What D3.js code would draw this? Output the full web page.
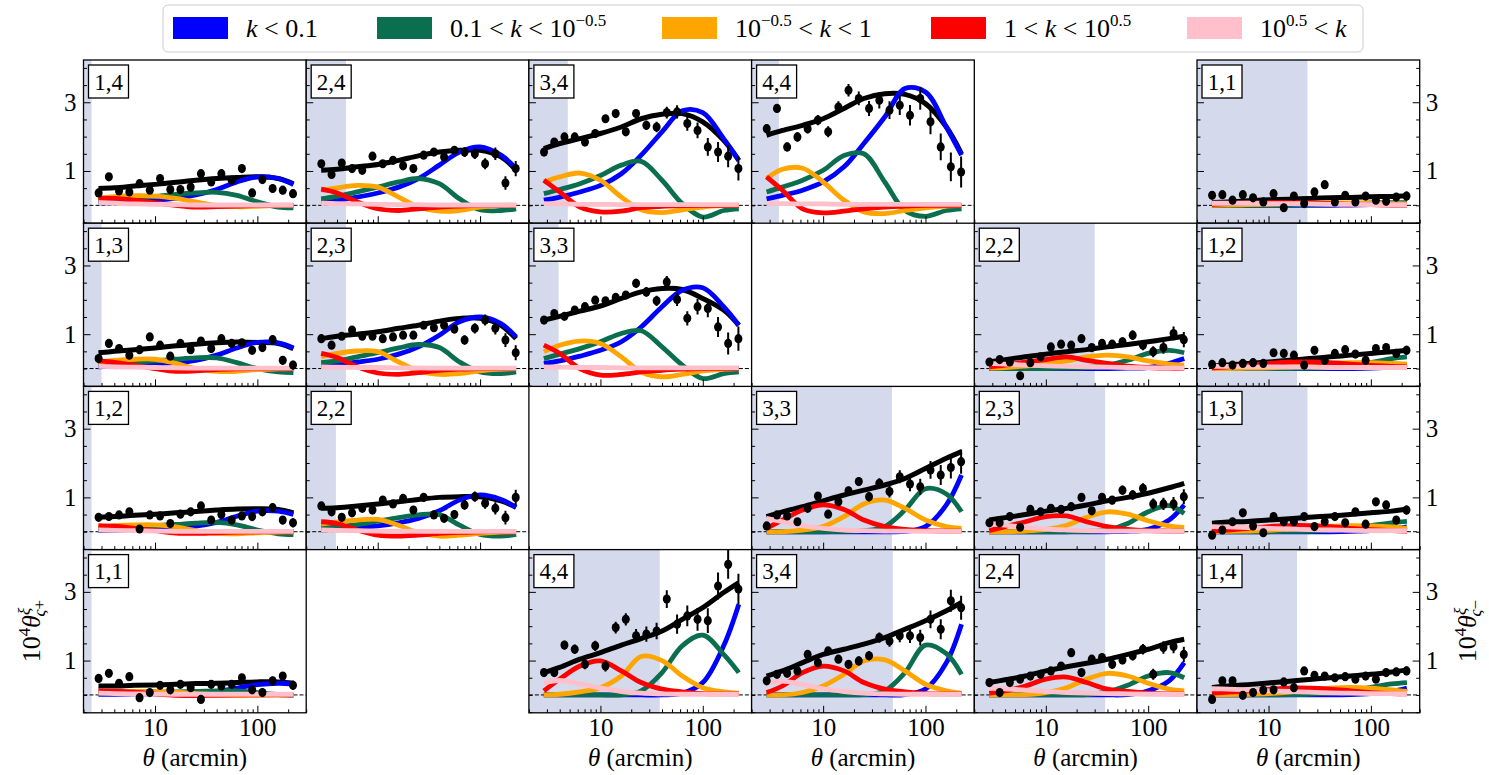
<!DOCTYPE html>
<html>
<head>
<meta charset="utf-8">
<script src="https://cdn.jsdelivr.net/npm/d3@7"></script>
<style>
  body { margin: 0; background: #fff; }
  svg { display: block; font-family: "Liberation Serif", "DejaVu Serif", serif; }
  text { font-family: "Liberation Serif", "DejaVu Serif", serif; }
</style>
</head>
<body>
<svg id="chart"></svg>
<script>
// angular bins of the measurements (arcmin)
let thetaBins = [2.81, 3.54, 4.45, 5.61, 7.06, 8.89, 11.2, 14.1, 17.7, 22.3, 28.1, 35.4, 44.5, 56.1, 70.6, 88.9, 112, 141, 177, 223]
let thetaModel = [2.8, 4, 6.3, 10, 16, 25, 40, 63, 100, 160, 225]

let legendLabels = [
    [{t: "k", i: true}, {t: " < 0.1"}],
    [{t: "0.1 < "}, {t: "k", i: true}, {t: " < 10"}, {t: "\u22120.5", sup: true}],
    [{t: "10"}, {t: "\u22120.5", sup: true}, {t: " < "}, {t: "k", i: true}, {t: " < 1"}],
    [{t: "1 < "}, {t: "k", i: true}, {t: " < 10"}, {t: "0.5", sup: true}],
    [{t: "10"}, {t: "0.5", sup: true}, {t: " < "}, {t: "k", i: true}]
]
let kColors = ["#0000ff", "#0b6e4f", "#ffa500", "#ff0000", "#ffc0cb"]

let panelLabels = ["1,4", "2,4", "3,4", "4,4", "1,1",
                   "1,3", "2,3", "3,3", "2,2", "1,2",
                   "1,2", "2,2", "3,3", "2,3", "1,3",
                   "1,1", "4,4", "3,4", "2,4", "1,4"]
let panelRow = [0, 0, 0, 0, 0, 1, 1, 1, 1, 1, 2, 2, 2, 2, 2, 3, 3, 3, 3, 3]
let panelCol = [0, 1, 2, 3, 5, 0, 1, 2, 4, 5, 0, 1, 3, 4, 5, 0, 2, 3, 4, 5]
// angular scale cut (shaded below it)
let scaleCut = [2.4, 4.9, 4.8, 3.7, 24, 3.0, 4.9, 3.9, 30, 19, 2.4, 3.9, 47, 38, 24, 2.4, 38, 48, 38, 19]

let errA = [0.07, 0.07, 0.07, 0.07, 0.07, 0.07, 0.07, 0.08, 0.08, 0.08, 0.08, 0.09, 0.09, 0.1, 0.1, 0.1, 0.11, 0.12, 0.12, 0.13]
let errB = [0.08, 0.08, 0.08, 0.08, 0.08, 0.08, 0.09, 0.09, 0.09, 0.1, 0.1, 0.11, 0.12, 0.13, 0.14, 0.15, 0.16, 0.18, 0.2, 0.22]
let errC = [0.1, 0.1, 0.1, 0.1, 0.1, 0.11, 0.11, 0.12, 0.12, 0.13, 0.14, 0.15, 0.17, 0.19, 0.21, 0.23, 0.26, 0.29, 0.32, 0.35]
let errD = [0.13, 0.13, 0.13, 0.14, 0.14, 0.15, 0.16, 0.17, 0.18, 0.2, 0.22, 0.24, 0.26, 0.28, 0.3, 0.33, 0.36, 0.39, 0.42, 0.45]
let panelErr = [errA, errB, errC, errD, errA, errA, errB, errC, errB, errA,
                errA, errB, errC, errB, errA, errA, errD, errC, errB, errA]

let dataPoints = [
    [0.36, 0.83, 0.42, 0.39, 0.63, 0.44, 0.78, 0.46, 0.46, 0.53, 0.92, 0.68, 0.92, 0.73, 1.07, 0.36, 0.75, 0.49, 0.44, 0.34],
    [1.21, 0.9, 1.23, 1.07, 1.02, 1.43, 1.21, 1.31, 1.15, 1.07, 1.46, 1.55, 1.41, 1.6, 1.55, 1.5, 1.21, 1.5, 0.65, 1.07],
    [1.55, 1.84, 1.99, 1.99, 1.84, 2.09, 2.52, 2.67, 2.14, 2.67, 2.33, 2.28, 2.7, 2.72, 2.38, 2.18, 1.7, 1.55, 1.43, 1.07],
    [2.23, 2.82, 1.7, 1.99, 2.23, 2.48, 2.14, 2.86, 3.35, 3.11, 2.82, 3.06, 2.77, 2.91, 2.62, 3.11, 2.43, 1.7, 1.12, 0.97],
    [0.29, 0.31, 0.15, 0.31, 0.22, 0.1, 0.34, -0.07, 0.27, 0.05, 0.39, 0.6, 0.1, 0.29, 0.1, 0.27, 0.15, 0.12, 0.24, 0.27],
    [0.29, 0.73, 0.58, 0.39, 0.55, 0.92, 0.68, 0.36, 0.73, 0.55, 0.8, 0.58, 0.87, 0.73, 0.75, 0.53, 0.61, 0.84, 0.24, 0.1],
    [0.87, 0.68, 0.94, 1.12, 0.94, 0.94, 0.87, 0.92, 0.97, 0.97, 1.26, 1.19, 1.26, 1.15, 0.83, 1.17, 1.41, 1.17, 0.83, 0.46],
    [1.41, 1.6, 1.52, 1.7, 1.8, 1.99, 1.97, 2.07, 2.14, 2.48, 2.23, 1.97, 2.52, 2.01, 1.46, 1.8, 1.75, 1.21, 0.73, 0.87],
    [0.19, 0.26, 0.19, -0.21, 0.17, 0.34, 0.63, 0.71, 0.68, 0.87, 0.61, 0.73, 0.71, 0.78, 0.97, 0.68, 0.49, 0.61, 1.02, 0.84],
    [0.12, 0.17, 0.1, 0.15, 0.17, 0.15, 0.46, 0.44, 0.39, 0.1, 0.53, 0.24, 0.44, 0.55, 0.42, 0.24, 0.58, 0.61, 0.44, 0.53],
    [0.42, 0.44, 0.49, 0.58, 0.08, 0.49, 0.46, 0.24, 0.51, 0.58, 0.75, 0.34, 0.5, 0.34, 0.46, 0.44, 0.58, 0.7, 0.34, 0.26],
    [0.75, 0.58, 0.42, 0.55, 0.68, 0.63, 0.92, 0.81, 0.97, 0.63, 1.0, 0.49, 0.39, 0.5, 0.78, 1.02, 0.83, 0.68, 0.41, 1.0],
    [0.17, 0.49, 0.46, 0.29, 0.68, 1.04, 0.51, 0.87, 1.19, 1.46, 1.02, 1.41, 1.17, 1.6, 1.39, 1.31, 1.8, 1.65, 1.87, 2.04],
    [0.26, 0.26, 0.44, 0.13, 0.65, 0.58, 0.68, 0.65, 0.73, 1.0, 0.61, 1.0, 0.92, 1.21, 1.07, 1.26, 0.81, 0.81, 0.81, 1.02],
    [-0.1, 0.05, 0.29, 0.55, 0.17, -0.03, 0.44, 0.29, 0.29, 0.44, 0.15, 0.29, 0.44, 0.26, 0.58, 0.22, 0.87, 0.78, 0.34, 0.63],
    [0.48, 0.63, 0.34, 0.53, -0.08, 0.07, 0.28, 0.15, 0.31, 0.21, -0.13, 0.31, 0.26, 0.31, 0.5, 0.15, 0.07, 0.41, 0.55, 0.28],
    [0.65, 0.65, 1.45, 1.33, 0.89, 1.43, 0.84, 1.96, 2.2, 1.72, 1.77, 1.86, 2.79, 2.06, 2.3, 2.2, 2.16, 3.17, 3.8, 3.08],
    [0.41, 0.6, 0.63, 0.7, 1.18, 0.94, 1.28, 1.04, 0.89, 0.99, 1.14, 1.67, 1.57, 1.72, 1.72, 1.67, 2.2, 1.91, 2.74, 2.54],
    [0.36, 0.07, 0.36, 0.46, 0.55, 0.6, 0.7, 0.84, 1.23, 0.65, 1.04, 1.09, 0.89, 1.02, 1.14, 1.33, 0.6, 1.38, 1.41, 1.18],
    [-0.13, 0.41, 0.41, -0.01, 0.07, 0.14, 0.15, 0.38, 0.21, 0.7, 0.57, 0.55, 0.5, 0.53, 0.46, 0.55, 0.46, 0.65, 0.67, 0.7]
]

let modelTotal = [
    [0.49, 0.51, 0.56, 0.61, 0.67, 0.73, 0.78, 0.81, 0.83, 0.78, 0.63],
    [1.02, 1.05, 1.12, 1.19, 1.31, 1.44, 1.55, 1.6, 1.6, 1.41, 1.02],
    [1.65, 1.8, 1.94, 2.09, 2.28, 2.52, 2.65, 2.67, 2.43, 1.89, 1.31],
    [2.04, 2.18, 2.33, 2.52, 2.82, 3.11, 3.25, 3.23, 2.96, 2.28, 1.5],
    [0.08, 0.1, 0.13, 0.16, 0.18, 0.2, 0.22, 0.23, 0.25, 0.26, 0.28],
    [0.46, 0.5, 0.55, 0.6, 0.66, 0.71, 0.75, 0.77, 0.76, 0.73, 0.58],
    [0.87, 0.94, 1.0, 1.07, 1.17, 1.26, 1.38, 1.46, 1.46, 1.26, 0.87],
    [1.41, 1.52, 1.67, 1.82, 2.04, 2.23, 2.33, 2.3, 2.04, 1.7, 1.26],
    [0.19, 0.26, 0.34, 0.42, 0.49, 0.55, 0.63, 0.7, 0.78, 0.87, 0.94],
    [0.07, 0.1, 0.15, 0.19, 0.24, 0.29, 0.34, 0.39, 0.44, 0.49, 0.53],
    [0.42, 0.44, 0.48, 0.51, 0.55, 0.59, 0.63, 0.66, 0.67, 0.65, 0.55],
    [0.68, 0.7, 0.75, 0.81, 0.87, 0.94, 1.0, 1.02, 1.02, 0.9, 0.71],
    [0.44, 0.58, 0.73, 0.9, 1.07, 1.21, 1.36, 1.55, 1.84, 2.14, 2.33],
    [0.34, 0.41, 0.5, 0.6, 0.68, 0.78, 0.9, 1.0, 1.12, 1.28, 1.41],
    [0.25, 0.28, 0.3, 0.34, 0.38, 0.42, 0.46, 0.5, 0.55, 0.6, 0.66],
    [0.26, 0.26, 0.28, 0.29, 0.31, 0.33, 0.34, 0.36, 0.38, 0.38, 0.34],
    [0.65, 0.8, 1.04, 1.23, 1.45, 1.64, 1.86, 2.2, 2.54, 2.98, 3.27],
    [0.55, 0.7, 0.94, 1.18, 1.33, 1.48, 1.67, 1.91, 2.16, 2.45, 2.69],
    [0.36, 0.44, 0.55, 0.7, 0.82, 0.92, 1.04, 1.18, 1.33, 1.52, 1.62],
    [0.22, 0.26, 0.3, 0.35, 0.4, 0.45, 0.5, 0.55, 0.6, 0.67, 0.73]
]

// k < 0.1
let modelBlue = [
    [0.07, 0.08, 0.1, 0.15, 0.2, 0.3, 0.46, 0.68, 0.83, 0.78, 0.6],
    [0.1, 0.15, 0.24, 0.36, 0.53, 0.78, 1.17, 1.55, 1.7, 1.46, 1.07],
    [0.15, 0.24, 0.39, 0.58, 0.92, 1.46, 2.14, 2.75, 2.7, 1.94, 1.31],
    [0.19, 0.29, 0.44, 0.68, 1.12, 1.8, 2.57, 3.4, 3.3, 2.28, 1.46],
    [0, 0, 0, 0, 0, 0, 0, 0.01, 0.02, 0.04, 0.06],
    [0.05, 0.07, 0.1, 0.13, 0.17, 0.24, 0.39, 0.6, 0.76, 0.75, 0.6],
    [0.07, 0.12, 0.19, 0.27, 0.42, 0.63, 0.97, 1.36, 1.5, 1.31, 0.92],
    [0.15, 0.22, 0.36, 0.53, 0.78, 1.21, 1.8, 2.28, 2.35, 1.8, 1.26],
    [0, 0, 0, 0, 0, 0, 0, 0.01, 0.03, 0.15, 0.29],
    [0, 0, 0, 0, 0, 0, 0, 0, 0.01, 0.05, 0.13],
    [0.03, 0.04, 0.06, 0.08, 0.11, 0.16, 0.27, 0.45, 0.6, 0.6, 0.5],
    [0.05, 0.08, 0.13, 0.17, 0.26, 0.39, 0.61, 0.92, 1.07, 0.94, 0.71],
    [0, 0, 0, 0, 0, 0, 0, 0.01, 0.15, 0.78, 1.65],
    [0, 0, 0, 0, 0, 0, 0, 0.01, 0.07, 0.34, 0.78],
    [0, 0, 0, 0, 0, 0, 0, 0.01, 0.03, 0.07, 0.14],
    [0.02, 0.02, 0.03, 0.03, 0.04, 0.06, 0.1, 0.2, 0.3, 0.34, 0.32],
    [0, 0, 0, 0, 0, 0, 0, 0.05, 0.36, 1.43, 2.64],
    [0, 0, 0, 0, 0, 0, 0, 0.01, 0.17, 0.94, 2.06],
    [0, 0, 0, 0, 0, 0, 0, 0.01, 0.12, 0.41, 0.94],
    [0, 0, 0, 0, 0, 0, 0, 0.01, 0.04, 0.1, 0.2]
]

// 0.1 < k < 10^-0.5
let modelGreen = [
    [0.15, 0.17, 0.22, 0.26, 0.32, 0.36, 0.38, 0.29, 0.1, -0.05, -0.07],
    [0.19, 0.26, 0.39, 0.53, 0.68, 0.78, 0.63, 0.19, -0.13, -0.15, -0.1],
    [0.34, 0.46, 0.63, 0.87, 1.17, 1.28, 0.73, 0.05, -0.34, -0.15, -0.1],
    [0.39, 0.53, 0.73, 1.02, 1.45, 1.5, 0.68, -0.15, -0.32, -0.15, -0.1],
    [0, 0, 0, 0.01, 0.01, 0.02, 0.03, 0.05, 0.07, 0.08, 0.08],
    [0.13, 0.17, 0.19, 0.22, 0.27, 0.31, 0.31, 0.17, 0, -0.1, -0.12],
    [0.17, 0.22, 0.34, 0.46, 0.6, 0.7, 0.61, 0.19, -0.1, -0.15, -0.1],
    [0.29, 0.42, 0.58, 0.78, 1.02, 1.1, 0.63, 0.1, -0.29, -0.15, -0.1],
    [0, 0, 0, 0, 0.01, 0.03, 0.1, 0.24, 0.44, 0.53, 0.46],
    [0, 0, 0, 0, 0, 0.01, 0.03, 0.07, 0.17, 0.29, 0.34],
    [0.1, 0.12, 0.15, 0.18, 0.21, 0.25, 0.27, 0.2, 0.05, -0.06, -0.08],
    [0.12, 0.15, 0.21, 0.31, 0.41, 0.49, 0.5, 0.19, -0.08, -0.13, -0.08],
    [0, 0, 0, 0, 0.01, 0.03, 0.15, 0.63, 1.25, 1.1, 0.58],
    [0, 0, 0, 0, 0, 0.01, 0.05, 0.24, 0.58, 0.76, 0.53],
    [0, 0, 0, 0, 0.01, 0.02, 0.05, 0.1, 0.18, 0.26, 0.3],
    [0.05, 0.06, 0.07, 0.08, 0.09, 0.1, 0.12, 0.12, 0.07, 0.01, -0.01],
    [0, 0, 0, 0, 0, 0.12, 0.65, 1.43, 1.74, 1.18, 0.65],
    [0, 0, 0, 0, 0, 0.01, 0.12, 0.65, 1.45, 1.2, 0.6],
    [0, 0, 0, 0, 0, 0.01, 0.09, 0.28, 0.55, 0.65, 0.5],
    [0, 0, 0, 0, 0.01, 0.02, 0.05, 0.12, 0.22, 0.32, 0.36]
]

// 10^-0.5 < k < 1
let modelOrange = [
    [0.2, 0.25, 0.28, 0.27, 0.2, 0.1, 0.0, -0.04, -0.03, 0, 0],
    [0.44, 0.51, 0.58, 0.53, 0.24, -0.05, -0.17, -0.15, -0.05, 0, 0],
    [0.68, 0.83, 0.94, 0.73, 0.24, -0.13, -0.21, -0.13, -0.05, -0.01, 0],
    [0.78, 1.05, 1.08, 0.68, 0.15, -0.19, -0.24, -0.15, -0.07, -0.02, 0],
    [0, 0.01, 0.02, 0.03, 0.05, 0.06, 0.07, 0.07, 0.06, 0.05, 0.04],
    [0.19, 0.24, 0.27, 0.27, 0.15, 0, -0.08, -0.08, -0.03, -0.01, 0],
    [0.34, 0.44, 0.51, 0.49, 0.19, -0.07, -0.17, -0.15, -0.07, -0.02, 0],
    [0.49, 0.68, 0.8, 0.73, 0.34, -0.1, -0.24, -0.17, -0.07, -0.02, 0],
    [0.01, 0.03, 0.07, 0.13, 0.22, 0.34, 0.39, 0.34, 0.22, 0.13, 0.1],
    [0, 0, 0.01, 0.02, 0.05, 0.1, 0.15, 0.17, 0.17, 0.15, 0.13],
    [0.15, 0.18, 0.2, 0.2, 0.14, 0.03, -0.05, -0.06, -0.03, -0.01, 0],
    [0.22, 0.29, 0.34, 0.36, 0.19, -0.03, -0.13, -0.1, -0.05, -0.01, 0],
    [0, 0, 0.05, 0.15, 0.44, 0.81, 0.92, 0.68, 0.34, 0.15, 0.1],
    [0, 0, 0.02, 0.07, 0.19, 0.42, 0.58, 0.51, 0.32, 0.17, 0.12],
    [0, 0.01, 0.02, 0.04, 0.08, 0.12, 0.16, 0.18, 0.17, 0.14, 0.1],
    [0.08, 0.09, 0.1, 0.1, 0.08, 0.04, 0.0, -0.02, -0.01, 0, 0],
    [0, 0.02, 0.09, 0.21, 0.55, 1.12, 1.0, 0.55, 0.21, 0.09, 0.05],
    [0, 0, 0.07, 0.26, 0.6, 0.99, 1.02, 0.7, 0.31, 0.12, 0.05],
    [0, 0, 0.01, 0.07, 0.21, 0.46, 0.63, 0.55, 0.34, 0.17, 0.12],
    [0, 0.01, 0.02, 0.04, 0.08, 0.14, 0.2, 0.22, 0.2, 0.15, 0.1]
]

// 1 < k < 10^0.5
let modelRed = [
    [0.22, 0.2, 0.15, 0.07, 0.0, -0.05, -0.04, -0.02, 0, 0, 0],
    [0.47, 0.36, 0.1, -0.1, -0.15, -0.1, -0.05, -0.02, 0, 0, 0],
    [0.73, 0.39, -0.05, -0.19, -0.17, -0.07, -0.03, -0.01, 0, 0, 0],
    [0.83, 0.44, -0.1, -0.22, -0.17, -0.1, -0.05, -0.02, 0, 0, 0],
    [0.03, 0.05, 0.07, 0.08, 0.08, 0.07, 0.05, 0.03, 0.02, 0.01, 0.01],
    [0.22, 0.18, 0.1, 0, -0.08, -0.07, -0.03, -0.01, 0, 0, 0],
    [0.44, 0.32, 0.05, -0.13, -0.17, -0.12, -0.05, -0.02, 0, 0, 0],
    [0.68, 0.44, 0, -0.19, -0.17, -0.1, -0.05, -0.02, 0, 0, 0],
    [0.05, 0.1, 0.19, 0.26, 0.34, 0.24, 0.15, 0.07, 0.03, 0.01, 0.01],
    [0.02, 0.05, 0.1, 0.15, 0.19, 0.19, 0.17, 0.13, 0.09, 0.06, 0.05],
    [0.18, 0.16, 0.1, 0.03, -0.04, -0.05, -0.03, -0.01, 0, 0, 0],
    [0.29, 0.24, 0.05, -0.1, -0.13, -0.1, -0.05, -0.02, 0, 0, 0],
    [0.1, 0.34, 0.63, 0.78, 0.65, 0.34, 0.15, 0.07, 0.03, 0.02, 0.02],
    [0.03, 0.15, 0.29, 0.44, 0.46, 0.29, 0.15, 0.07, 0.03, 0.02, 0.02],
    [0.02, 0.05, 0.1, 0.15, 0.18, 0.18, 0.15, 0.1, 0.06, 0.03, 0.02],
    [0.12, 0.11, 0.08, 0.03, -0.01, -0.02, -0.01, 0, 0, 0, 0],
    [0.12, 0.46, 0.84, 0.99, 0.7, 0.36, 0.17, 0.09, 0.04, 0.03, 0.03],
    [0.07, 0.26, 0.65, 0.84, 0.7, 0.36, 0.17, 0.09, 0.04, 0.03, 0.03],
    [0.05, 0.12, 0.26, 0.46, 0.52, 0.36, 0.17, 0.1, 0.05, 0.03, 0.03],
    [0.05, 0.08, 0.12, 0.16, 0.2, 0.2, 0.17, 0.12, 0.07, 0.04, 0.03]
]

// 10^0.5 < k
let modelPink = [
    [0.08, 0.06, 0.04, 0.03, 0.02, 0.01, 0.01, 0.01, 0.01, 0.01, 0.01],
    [0.06, 0.05, 0.04, 0.03, 0.02, 0.02, 0.01, 0.01, 0.01, 0.01, 0.01],
    [0.05, 0.04, 0.03, 0.03, 0.02, 0.02, 0.02, 0.02, 0.02, 0.02, 0.02],
    [0.05, 0.05, 0.04, 0.04, 0.03, 0.03, 0.03, 0.03, 0.03, 0.03, 0.03],
    [0.06, 0.06, 0.06, 0.05, 0.05, 0.04, 0.03, 0.03, 0.02, 0.02, 0.02],
    [0.06, 0.05, 0.04, 0.03, 0.02, 0.01, 0.01, 0.01, 0.01, 0.01, 0.01],
    [0.05, 0.04, 0.03, 0.03, 0.02, 0.02, 0.01, 0.01, 0.01, 0.01, 0.01],
    [0.05, 0.04, 0.03, 0.03, 0.02, 0.02, 0.02, 0.02, 0.02, 0.02, 0.02],
    [0.15, 0.13, 0.1, 0.08, 0.06, 0.05, 0.04, 0.03, 0.02, 0.02, 0.02],
    [0.06, 0.06, 0.05, 0.05, 0.04, 0.04, 0.03, 0.03, 0.03, 0.03, 0.03],
    [0.05, 0.04, 0.03, 0.02, 0.01, 0.01, 0.01, 0.01, 0.01, 0.01, 0.01],
    [0.05, 0.04, 0.03, 0.02, 0.02, 0.01, 0.01, 0.01, 0.01, 0.01, 0.01],
    [0.39, 0.29, 0.17, 0.1, 0.05, 0.03, 0.02, 0.02, 0.01, 0.01, 0.01],
    [0.24, 0.19, 0.13, 0.08, 0.05, 0.03, 0.02, 0.02, 0.02, 0.02, 0.02],
    [0.15, 0.14, 0.12, 0.1, 0.08, 0.06, 0.05, 0.04, 0.03, 0.03, 0.03],
    [0.05, 0.04, 0.03, 0.03, 0.02, 0.02, 0.02, 0.02, 0.02, 0.02, 0.02],
    [0.35, 0.42, 0.32, 0.2, 0.1, 0.05, 0.03, 0.02, 0.02, 0.02, 0.02],
    [0.35, 0.4, 0.3, 0.18, 0.1, 0.05, 0.03, 0.02, 0.02, 0.02, 0.02],
    [0.2, 0.18, 0.14, 0.1, 0.07, 0.05, 0.04, 0.03, 0.02, 0.02, 0.02],
    [0.18, 0.17, 0.15, 0.12, 0.1, 0.08, 0.06, 0.05, 0.04, 0.04, 0.04]
]

let yMajor = [1, 3]
let yMinor = [-0.5, 0, 0.5, 1.5, 2, 2.5, 3.5, 4]
let xMajor = [10, 100]
let xMinor = [2, 3, 4, 5, 6, 7, 8, 9, 20, 30, 40, 50, 60, 70, 80, 90, 200, 300]

let width = 1489
let height = 775
let left0 = 83.5   // left edge of first column
let top0 = 60      // top edge of first row
let colW = 222.7
let rowH = 163.2
let legendX = [173, 377, 662, 931, 1187]
let serif = '"Liberation Serif", "DejaVu Serif", serif'

let svg = d3.select('#chart').attr('width', width).attr('height', height)
    .attr('font-family', serif)

let xScale = d3.scaleLog().domain([2, 300]).range([0, colW])
let yScale = d3.scaleLinear().domain([-0.52, 4.23]).range([rowH, 0])

let line = d3.line()
    .x(d => xScale(d[0]))
    .y(d => yScale(d[1]))
    .curve(d3.curveCatmullRom.alpha(0.5))

let styleAxis = (g) => {
    g.select('.domain').remove()
    g.attr('font-family', serif)
     .attr('font-size', 25)
     .attr('color', '#000')
    g.selectAll('.tick line').attr('stroke-width', 1)
}

let drawPanel = (i) => {
    let px = left0 + panelCol[i] * colW
    let py = top0 + panelRow[i] * rowH
    let g = svg.append('g').attr('transform', 'translate(' + px + ',' + py + ')')

    g.append('clipPath').attr('id', 'clip' + i)
        .append('rect').attr('width', colW).attr('height', rowH)
    let inner = g.append('g').attr('clip-path', 'url(#clip' + i + ')')

    // scale cut shading
    inner.append('rect')
        .attr('x', 0).attr('y', 0)
        .attr('width', xScale(scaleCut[i]))
        .attr('height', rowH)
        .attr('fill', '#d4d9ec')

    inner.append('line')
        .attr('x1', 0).attr('x2', colW)
        .attr('y1', yScale(0)).attr('y2', yScale(0))
        .attr('stroke', '#000').attr('stroke-width', 1)
        .attr('stroke-dasharray', '4,2')

    inner.append('path')
        .attr('d', line(d3.zip(thetaModel, modelTotal[i])))
        .attr('fill', 'none').attr('stroke', '#000').attr('stroke-width', 5)

    let comps = [modelBlue, modelGreen, modelOrange, modelRed, modelPink]
    comps.forEach((c, k) => {
        inner.append('path')
            .attr('d', line(d3.zip(thetaModel, c[i])))
            .attr('fill', 'none').attr('stroke', kColors[k]).attr('stroke-width', 4.8)
    })

    let pts = d3.zip(thetaBins, dataPoints[i], panelErr[i])
    inner.selectAll('.err').data(pts).enter().append('line')
        .attr('x1', d => xScale(d[0])).attr('x2', d => xScale(d[0]))
        .attr('y1', d => yScale(d[1] - d[2])).attr('y2', d => yScale(d[1] + d[2]))
        .attr('stroke', '#000').attr('stroke-width', 2)
    inner.selectAll('.pt').data(pts).enter().append('ellipse')
        .attr('cx', d => xScale(d[0])).attr('cy', d => yScale(d[1]))
        .attr('rx', 4).attr('ry', 4.6).attr('fill', '#000')

    // x axis (inward ticks)
    let showX = panelRow[i] == 3
    g.append('g').attr('transform', 'translate(0,' + rowH + ')')
        .call(d3.axisBottom(xScale).tickValues(xMinor).tickSize(-3.5).tickFormat(''))
        .call(styleAxis)
    g.append('g').attr('transform', 'translate(0,' + rowH + ')')
        .call(d3.axisBottom(xScale).tickValues(xMajor).tickSize(-7).tickPadding(5)
            .tickFormat(showX ? d3.format('d') : ''))
        .call(styleAxis)

    // y axis
    let showLeft = panelCol[i] == 0
    g.append('g')
        .call(d3.axisLeft(yScale).tickValues(yMinor).tickSize(-3.5).tickFormat(''))
        .call(styleAxis)
    g.append('g')
        .call(d3.axisLeft(yScale).tickValues(yMajor).tickSize(-7).tickPadding(7)
            .tickFormat(showLeft ? d3.format('d') : ''))
        .call(styleAxis)
    if (panelCol[i] == 5) {
        g.append('g').attr('transform', 'translate(' + colW + ',0)')
            .call(d3.axisRight(yScale).tickValues(yMinor).tickSize(-3.5).tickFormat(''))
            .call(styleAxis)
        g.append('g').attr('transform', 'translate(' + colW + ',0)')
            .call(d3.axisRight(yScale).tickValues(yMajor).tickSize(-7).tickPadding(6)
                .tickFormat(d3.format('d')))
            .call(styleAxis)
    }

    g.append('rect')
        .attr('width', colW).attr('height', rowH)
        .attr('fill', 'none').attr('stroke', '#000').attr('stroke-width', 1.3)

    // bin pair label
    g.append('rect')
        .attr('x', 5).attr('y', 5).attr('width', 40).attr('height', 33)
        .attr('fill', '#fff').attr('stroke', '#000').attr('stroke-width', 1.3)
    g.append('text')
        .attr('x', 25).attr('y', 29.5)
        .attr('text-anchor', 'middle').attr('font-size', 23)
        .text(panelLabels[i])

    if (showX) {
        let t = g.append('text')
            .attr('x', colW / 2).attr('y', 766 - py)
            .attr('text-anchor', 'middle').attr('font-size', 25)
        t.append('tspan').attr('font-style', 'italic').text('\u03b8')
        t.append('tspan').text(' (arcmin)')
    }
}

panelLabels.forEach((d, i) => drawPanel(i))

// y labels
let yLabel = (x, sign) => {
    let t = svg.append('text')
        .attr('transform', 'translate(' + x + ',' + (top0 + 3.5 * rowH) + ') rotate(-90)')
        .attr('text-anchor', 'middle').attr('font-size', 26)
    t.append('tspan').text('10')
    t.append('tspan').attr('font-size', 17).attr('dy', -10).text('4')
    t.append('tspan').attr('font-style', 'italic').attr('dy', 10).text('\u03b8')
    t.append('tspan').attr('font-style', 'italic').attr('font-size', 17).attr('dy', -10).text('\u03be')
    t.append('tspan').attr('font-style', 'italic').attr('font-size', 17).attr('dx', -8).attr('dy', 15).text('\u03c2')
    t.append('tspan').attr('font-size', 17).text(sign)
}
yLabel(40, '+')
yLabel(1476, '\u2212')

// legend
let legend = svg.append('g')
legend.append('rect')
    .attr('x', 163).attr('y', 5).attr('width', 1200).attr('height', 47).attr('rx', 5)
    .attr('fill', '#fff').attr('stroke', '#cccccc').attr('stroke-width', 1)
legendLabels.forEach((parts, k) => {
    legend.append('rect')
        .attr('x', legendX[k]).attr('y', 17).attr('width', 55).attr('height', 22)
        .attr('fill', kColors[k])
    let t = legend.append('text').attr('x', legendX[k] + 73).attr('y', 37).attr('font-size', 26)
    let raised = false
    parts.forEach(p => {
        let s = t.append('tspan').text(p.t)
        if (p.i) s.attr('font-style', 'italic')
        if (p.sup) { s.attr('font-size', 17).attr('dy', -11); raised = true }
        else if (raised) { s.attr('dy', 11); raised = false }
    })
})
</script>
</body>
</html>
